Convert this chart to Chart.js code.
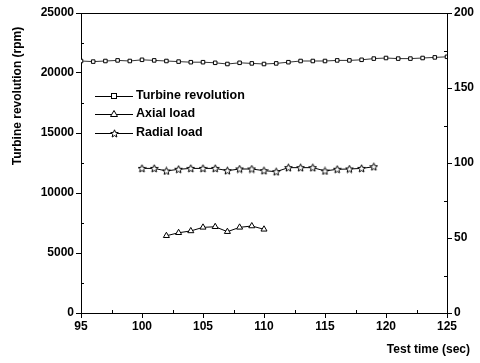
<!DOCTYPE html>
<html>
<head>
<meta charset="utf-8">
<script src="https://cdn.jsdelivr.net/npm/chart.js@4"></script>
<style>
  body { margin: 0; background: #fff; }
  canvas { display: block; }
</style>
</head>
<body>
<canvas id="turbineChart" width="480" height="363"></canvas>
<script>
// test time (sec)
var turbineTime = [95, 96, 97, 98, 99, 100, 101, 102, 103, 104, 105, 106, 107, 108, 109, 110,
    111, 112, 113, 114, 115, 116, 117, 118, 119, 120, 121, 122, 123, 124, 125];
var turbineRpm = [21000, 20950, 21000, 21050, 21000, 21100, 21050, 21000, 20950, 20900, 20900, 20850,
    20750, 20850, 20800, 20750, 20800, 20900, 21000, 21000, 21000, 21050, 21050, 21100, 21200,
    21250, 21200, 21200, 21250, 21300, 21350];

var axialTime = [102, 103, 104, 105, 106, 107, 108, 109, 110];
var axialLoad = [51.5, 53.5, 54.7, 57.1, 57.5, 54.2, 57.1, 58, 55.8];

var radialTime = [100, 101, 102, 103, 104, 105, 106, 107, 108, 109, 110, 111, 112, 113, 114, 115, 116, 117, 118, 119];
var radialLoad = [96.4, 96.4, 94.7, 95.8, 96.4, 96.4, 96.4, 94.9, 96, 96, 94.9, 94.2, 96.9, 96.9, 96.9,
    94.7, 95.8, 96, 96.4, 97.5];

var xTicks = [95, 100, 105, 110, 115, 120, 125];
var leftTicks = [0, 5000, 10000, 15000, 20000, 25000];
var rightTicks = [0, 50, 100, 150, 200];

function toPoints(xs, ys) {
    return xs.map(function (x, i) { return { x: x, y: ys[i] }; });
}

// open five-point star marker
function makeStar() {
    var c = document.createElement('canvas');
    c.width = 9; c.height = 9;
    var g = c.getContext('2d');
    g.beginPath();
    for (var i = 0; i < 10; i++) {
        var r = i % 2 === 0 ? 4 : 1.8;
        var a = -Math.PI / 2 + i * Math.PI / 5;
        var px = 4.5 + r * Math.cos(a), py = 4.8 + r * Math.sin(a);
        if (i === 0) g.moveTo(px, py); else g.lineTo(px, py);
    }
    g.closePath();
    g.fillStyle = '#fff';
    g.fill();
    g.strokeStyle = '#000';
    g.lineWidth = 1;
    g.stroke();
    return c;
}
var starImg = makeStar();

var boldFont = { family: '"Liberation Sans", Arial, sans-serif', size: 12, weight: 'bold' };

function drawMarker(ctx, kind, x, y) {
    ctx.save();
    ctx.fillStyle = '#fff';
    ctx.strokeStyle = '#000';
    ctx.lineWidth = 1;
    if (kind === 'rect') {
        ctx.fillRect(x - 2.5, y - 2.5, 5, 5);
        ctx.strokeRect(x - 2.5, y - 2.5, 5, 5);
    } else if (kind === 'triangle') {
        ctx.beginPath();
        ctx.moveTo(x, y - 3.5);
        ctx.lineTo(x + 3.5, y + 2.5);
        ctx.lineTo(x - 3.5, y + 2.5);
        ctx.closePath();
        ctx.fill();
        ctx.stroke();
    } else {
        ctx.drawImage(starImg, Math.round(x - 4.5), Math.round(y - 4.5));
    }
    ctx.restore();
}

var extrasPlugin = {
    id: 'extras',
    afterDraw: function (chart) {
        var ctx = chart.ctx;
        var a = chart.chartArea;
        var sx = chart.scales.x, sy = chart.scales.y, sy1 = chart.scales.y1;
        ctx.save();
        ctx.strokeStyle = '#000';
        ctx.lineWidth = 1;
        // top frame line
        ctx.beginPath();
        ctx.moveTo(a.left, a.top + 0.5);
        ctx.lineTo(a.right, a.top + 0.5);
        ctx.stroke();
        // minor ticks pointing inward
        ctx.beginPath();
        for (var t = 97.5; t < 125; t += 5) {
            var px = Math.round(sx.getPixelForValue(t)) + 0.5;
            ctx.moveTo(px, a.bottom);
            ctx.lineTo(px, a.bottom - 3);
        }
        for (var v = 2500; v < 25000; v += 5000) {
            var py = Math.round(sy.getPixelForValue(v)) + 0.5;
            ctx.moveTo(a.left, py);
            ctx.lineTo(a.left + 3, py);
        }
        for (var w = 25; w < 200; w += 50) {
            var py1 = Math.round(sy1.getPixelForValue(w)) + 0.5;
            ctx.moveTo(a.right, py1);
            ctx.lineTo(a.right - 3, py1);
        }
        ctx.stroke();

        // legend inside the plot
        var rows = [
            { label: 'Turbine revolution', kind: 'rect', y: 96 },
            { label: 'Axial load', kind: 'triangle', y: 114 },
            { label: 'Radial load', kind: 'star', y: 133 }
        ];
        ctx.font = 'bold 12.5px "Liberation Sans", Arial, sans-serif';
        ctx.fillStyle = '#000';
        ctx.textBaseline = 'middle';
        rows.forEach(function (r) {
            ctx.beginPath();
            ctx.moveTo(95, r.y + 0.5);
            ctx.lineTo(133, r.y + 0.5);
            ctx.stroke();
            drawMarker(ctx, r.kind, 114, r.y);
            ctx.fillText(r.label, 136, r.y);
        });

        // axis titles
        ctx.font = 'bold 12px "Liberation Sans", Arial, sans-serif';
        ctx.textAlign = 'right';
        ctx.fillText('Test time (sec)', 470, 350);
        ctx.translate(18, 96);
        ctx.rotate(-Math.PI / 2);
        ctx.textAlign = 'center';
        ctx.fillText('Turbine revolution (rpm)', 0, 0);
        ctx.restore();
    }
};

document.addEventListener("DOMContentLoaded", function () {
    var ctx = document.getElementById('turbineChart').getContext('2d');

    var turbineChart = new Chart(ctx, {
        type: 'line',
        data: {
            datasets: [{
                label: 'Turbine revolution',
                data: toPoints(turbineTime, turbineRpm),
                yAxisID: 'y',
                borderColor: '#333',
                borderWidth: 1,
                backgroundColor: '#fff',
                pointStyle: 'rect',
                pointRadius: 2.5,
                pointBorderWidth: 1,
                pointBorderColor: '#000',
                pointBackgroundColor: '#fff'
            }, {
                label: 'Axial load',
                data: toPoints(axialTime, axialLoad),
                yAxisID: 'y1',
                borderColor: '#000',
                borderWidth: 1,
                pointStyle: 'triangle',
                pointRadius: 3.5,
                pointBorderWidth: 1,
                pointBorderColor: '#000',
                pointBackgroundColor: '#fff'
            }, {
                label: 'Radial load',
                data: toPoints(radialTime, radialLoad),
                yAxisID: 'y1',
                borderColor: '#000',
                borderWidth: 1,
                pointStyle: starImg,
                pointRadius: 4
            }]
        },
        options: {
            responsive: false,
            animation: false,
            events: [],
            layout: { padding: { top: 13, left: 0, right: 0, bottom: 0 } },
            plugins: {
                legend: { display: false },
                tooltip: { enabled: false }
            },
            scales: {
                x: {
                    type: 'linear',
                    min: 95,
                    max: 125,
                    afterBuildTicks: function (s) { s.ticks = xTicks.map(function (v) { return { value: v }; }); },
                    afterFit: function (s) { s.height = 50; },
                    ticks: { color: '#000', font: boldFont, padding: 1, maxRotation: 0 },
                    grid: { drawOnChartArea: false, tickLength: 5, color: '#000' },
                    border: { color: '#000', width: 1 }
                },
                y: {
                    position: 'left',
                    min: 0,
                    max: 25000,
                    afterBuildTicks: function (s) { s.ticks = leftTicks.map(function (v) { return { value: v }; }); },
                    afterFit: function (s) { s.width = 81; },
                    ticks: { color: '#000', font: boldFont, padding: 2, callback: function (v) { return String(v); } },
                    grid: { drawOnChartArea: false, tickLength: 5, color: '#000' },
                    border: { color: '#000', width: 1 }
                },
                y1: {
                    position: 'right',
                    min: 0,
                    max: 200,
                    afterBuildTicks: function (s) { s.ticks = rightTicks.map(function (v) { return { value: v }; }); },
                    afterFit: function (s) { s.width = 33; },
                    ticks: { color: '#000', font: boldFont, padding: 2, callback: function (v) { return String(v); } },
                    grid: { drawOnChartArea: false, tickLength: 5, color: '#000' },
                    border: { color: '#000', width: 1 }
                }
            }
        },
        plugins: [extrasPlugin]
    });
});
</script>
</body>
</html>
